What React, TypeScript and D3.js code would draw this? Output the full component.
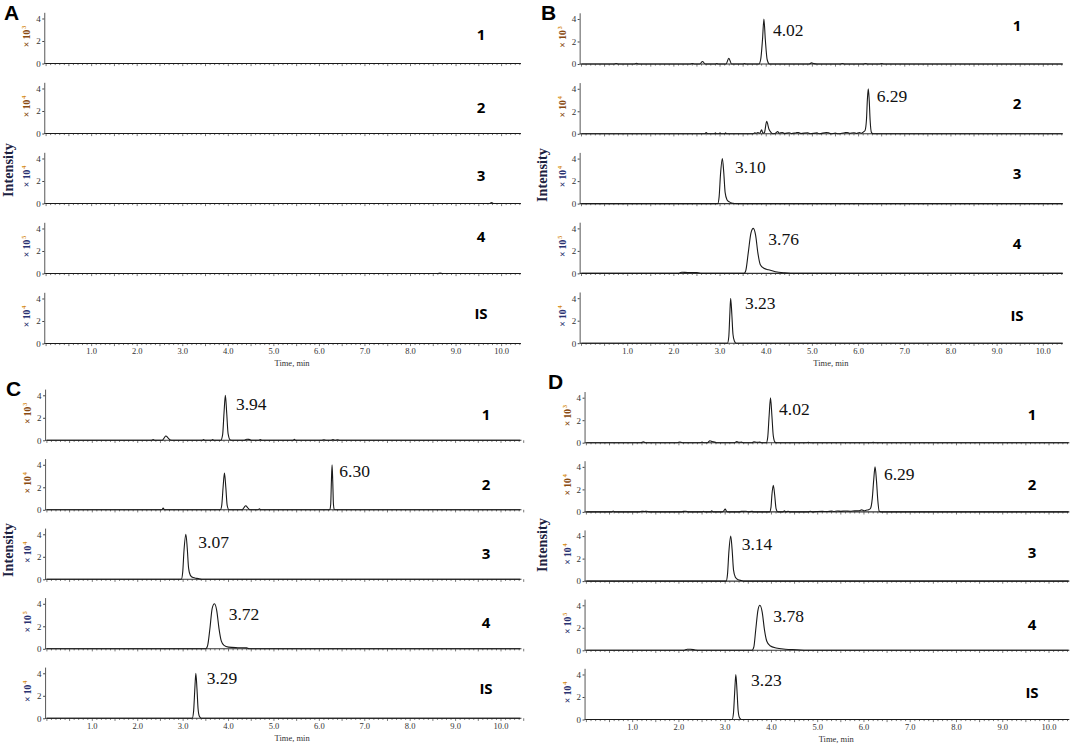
import { useEffect, useRef } from "react";
import * as d3 from "d3";

const width = 1072;
const height = 746;

type Pt = [number, number];

// row names, and the power of ten shown on each row's y axis
const rowLabels = ["1", "2", "3", "4", "IS"];
const exponents = ["3", "4", "4", "5", "4"];
const yTickValues = [0, 2, 4];
const xTickValues = [1, 2, 3, 4, 5, 6, 7, 8, 9, 10];

// ---- panel A: blank matrix ----
const traceA1: Pt[] = [[0, 0], [10.42, 0]];
const traceA2: Pt[] = [[0, 0], [10.42, 0]];
const traceA3: Pt[] = [[0, 0], [9.74, 0], [9.78, 0.08], [9.82, 0], [10.42, 0]];
const traceA4: Pt[] = [[0, 0], [8.6, 0], [8.65, 0.03], [8.7, 0], [10.42, 0]];
const traceA5: Pt[] = [[0, 0], [10.42, 0]];

// ---- panel B ----
const traceB1: Pt[] = [
  [0, 0], [0.7, 0], [0.75, 0.05], [0.8, 0], [1.14, 0], [1.19, 0.06], [1.24, 0],
  [2.35, 0], [2.4, 0.05], [2.45, 0], [2.56, 0], [2.62, 0.22], [2.68, 0], [2.9, 0],
  [2.93, 0.05], [2.96, 0], [3.13, 0], [3.19, 0.5], [3.25, 0], [3.5, 0], [3.53, 0.04],
  [3.56, 0], [3.84, 0], [3.88, 0.4], [3.92, 2.2], [3.95, 4.0], [3.98, 2.2], [4.02, 0.4],
  [4.07, 0], [4.93, 0], [4.98, 0.1], [5.03, 0.03], [5.1, 0], [5.6, 0], [5.65, 0.05],
  [5.7, 0], [6.1, 0], [6.15, 0.05], [6.2, 0], [6.45, 0], [6.5, 0.04], [6.55, 0], [10.42, 0],
];
const traceB2: Pt[] = [
  [0, 0], [2.67, 0], [2.7, 0.12], [2.73, 0], [2.88, 0], [2.9, 0.08], [2.92, 0], [2.98, 0],
  [3.0, 0.1], [3.02, 0], [3.1, 0], [3.12, 0.08], [3.14, 0], [3.72, 0], [3.75, 0.1],
  [3.78, 0.05], [3.82, 0.12], [3.86, 0.05], [3.9, 0.35], [3.93, 0.05], [3.96, 0.1],
  [4.01, 1.1], [4.06, 0.4], [4.1, 0.15], [4.14, 0], [4.2, 0.05], [4.25, 0.2], [4.28, 0.05],
  [4.35, 0.12], [4.4, 0.02], [4.5, 0.1], [4.55, 0.02], [4.65, 0.1], [4.7, 0.12], [4.75, 0.02],
  [4.9, 0.1], [4.95, 0], [5.1, 0.08], [5.15, 0], [5.3, 0.12], [5.35, 0.1], [5.4, 0],
  [5.5, 0.06], [5.55, 0], [5.7, 0.1], [5.75, 0.12], [5.8, 0.05], [5.9, 0.1], [5.95, 0.03],
  [6.02, 0.12], [6.06, 0.05], [6.1, 0.15], [6.14, 0.3], [6.17, 1.2], [6.19, 3.0], [6.21, 4.0],
  [6.23, 3.0], [6.25, 1.2], [6.28, 0.1], [6.32, 0], [10.42, 0],
];
const traceB3: Pt[] = [
  [0, 0], [2.95, 0], [2.98, 0.6], [3.01, 2.6], [3.05, 4.0], [3.08, 2.8], [3.11, 1.0],
  [3.15, 0.35], [3.2, 0.15], [3.28, 0.03], [3.35, 0], [10.42, 0],
];
const traceB4: Pt[] = [
  [0, 0], [2.1, 0], [2.17, 0.1], [2.3, 0.08], [2.5, 0.08], [2.6, 0], [3.52, 0], [3.56, 0.3],
  [3.61, 1.8], [3.67, 3.6], [3.72, 4.0], [3.77, 3.4], [3.82, 1.8], [3.87, 0.8], [3.95, 0.45],
  [4.05, 0.32], [4.2, 0.15], [4.4, 0.05], [4.65, 0], [10.42, 0],
];
const traceB5: Pt[] = [
  [0, 0], [3.16, 0], [3.19, 0.6], [3.21, 2.4], [3.23, 4.0], [3.255, 2.6], [3.28, 0.8],
  [3.31, 0.2], [3.35, 0], [10.42, 0],
];

// ---- panel C ----
const traceC1: Pt[] = [
  [0, 0], [2.3, 0], [2.34, 0.06], [2.38, 0], [2.54, 0], [2.58, 0.2], [2.62, 0.38], [2.67, 0.2],
  [2.72, 0.02], [2.78, 0], [3.42, 0], [3.45, 0.06], [3.48, 0], [3.62, 0], [3.65, 0.06],
  [3.68, 0], [3.83, 0], [3.87, 0.5], [3.9, 2.4], [3.93, 4.0], [3.96, 2.4], [3.99, 0.6],
  [4.04, 0.03], [4.1, 0], [4.35, 0], [4.4, 0.1], [4.45, 0.08], [4.5, 0], [4.66, 0], [4.7, 0.06],
  [4.74, 0], [5.42, 0], [5.45, 0.08], [5.48, 0], [6.05, 0], [6.1, 0.05], [6.15, 0], [6.25, 0],
  [6.3, 0.06], [6.35, 0], [6.4, 0.05], [6.45, 0], [10.42, 0],
];
const traceC2: Pt[] = [
  [0, 0], [2.53, 0], [2.56, 0.15], [2.59, 0], [3.82, 0], [3.85, 0.4], [3.88, 2.0], [3.91, 3.26],
  [3.94, 2.0], [3.97, 0.4], [4.01, 0], [4.3, 0], [4.34, 0.2], [4.38, 0.36], [4.42, 0.2],
  [4.47, 0], [4.65, 0], [4.68, 0.1], [4.71, 0], [6.23, 0], [6.25, 0.5], [6.265, 2.5],
  [6.28, 4.0], [6.295, 2.5], [6.31, 0.5], [6.33, 0], [10.42, 0],
];
const traceC3: Pt[] = [
  [0, 0], [2.96, 0], [2.99, 0.6], [3.02, 2.6], [3.06, 4.0], [3.09, 2.8], [3.12, 1.0],
  [3.16, 0.35], [3.22, 0.15], [3.3, 0.08], [3.37, 0.03], [3.42, 0], [10.42, 0],
];
const traceC4: Pt[] = [
  [0, 0], [3.5, 0], [3.54, 0.3], [3.59, 1.8], [3.64, 3.6], [3.69, 4.0], [3.74, 3.4],
  [3.79, 1.8], [3.84, 0.7], [3.9, 0.3], [4.0, 0.15], [4.2, 0.1], [4.4, 0.08], [4.45, 0],
  [10.42, 0],
];
const traceC5: Pt[] = [
  [0, 0], [3.2, 0], [3.23, 0.6], [3.255, 2.4], [3.28, 4.0], [3.305, 2.6], [3.33, 0.8],
  [3.36, 0.15], [3.4, 0], [10.42, 0],
];

// ---- panel D ----
const traceD1: Pt[] = [
  [0, 0], [1.18, 0], [1.23, 0.08], [1.28, 0], [1.97, 0], [2.02, 0.06], [2.07, 0], [2.45, 0],
  [2.5, 0.05], [2.55, 0], [2.62, 0], [2.67, 0.18], [2.72, 0.1], [2.78, 0.05], [2.82, 0],
  [3.2, 0], [3.25, 0.1], [3.3, 0.04], [3.35, 0.05], [3.4, 0], [3.58, 0], [3.62, 0.08],
  [3.68, 0.04], [3.75, 0.05], [3.8, 0], [3.89, 0], [3.92, 0.5], [3.95, 2.4], [3.98, 4.0],
  [4.01, 2.4], [4.04, 0.6], [4.08, 0.03], [4.12, 0], [4.76, 0], [4.8, 0.04], [4.84, 0],
  [6.16, 0], [6.2, 0.04], [6.24, 0], [10.42, 0],
];
const traceD2: Pt[] = [
  [0, 0], [0.55, 0], [0.58, 0.08], [0.61, 0], [1.15, 0], [1.2, 0.06], [1.25, 0.03], [1.3, 0.06],
  [1.35, 0], [2.05, 0], [2.1, 0.05], [2.15, 0.06], [2.2, 0], [2.5, 0], [2.53, 0.05], [2.56, 0],
  [2.68, 0], [2.71, 0.1], [2.74, 0], [2.93, 0], [2.97, 0.1], [3.0, 0.25], [3.03, 0.05],
  [3.06, 0], [3.3, 0], [3.35, 0.05], [3.45, 0.06], [3.5, 0], [3.58, 0.05], [3.62, 0],
  [3.96, 0], [3.99, 0.4], [4.01, 1.5], [4.04, 2.37], [4.07, 1.5], [4.1, 0.3], [4.14, 0],
  [4.25, 0], [4.28, 0.1], [4.31, 0], [4.36, 0.05], [4.4, 0], [4.8, 0], [4.84, 0.06], [4.88, 0],
  [5.0, 0.04], [5.1, 0.05], [5.2, 0.03], [5.3, 0.07], [5.35, 0.03], [5.42, 0.08], [5.5, 0.05],
  [5.6, 0.08], [5.7, 0.06], [5.8, 0.09], [5.9, 0.1], [5.95, 0.18], [6.0, 0.1], [6.05, 0.15],
  [6.1, 0.2], [6.14, 0.3], [6.18, 1.2], [6.21, 2.8], [6.24, 4.0], [6.27, 2.8], [6.3, 1.0],
  [6.33, 0.05], [6.37, 0], [10.42, 0],
];
const traceD3: Pt[] = [
  [0, 0], [3.02, 0], [3.05, 0.6], [3.08, 2.6], [3.12, 4.0], [3.15, 2.8], [3.18, 1.0],
  [3.22, 0.35], [3.28, 0.12], [3.35, 0.05], [3.4, 0], [10.42, 0],
];
const traceD4: Pt[] = [
  [0, 0], [2.1, 0], [2.18, 0.1], [2.25, 0.1], [2.35, 0.03], [2.45, 0], [3.58, 0], [3.62, 0.3],
  [3.66, 1.8], [3.71, 3.6], [3.75, 4.0], [3.8, 3.4], [3.85, 1.8], [3.9, 0.8], [3.97, 0.4],
  [4.1, 0.2], [4.3, 0.1], [4.55, 0.05], [4.76, 0], [10.42, 0],
];
const traceD5: Pt[] = [
  [0, 0], [3.15, 0], [3.18, 0.6], [3.205, 2.4], [3.23, 4.0], [3.255, 2.6], [3.28, 0.8],
  [3.31, 0.15], [3.35, 0], [10.42, 0],
];

// retention time labels: row, apex time, text
const peaksA: { row: number; at: number; text: string }[] = [];
const peaksB = [
  { row: 0, at: 3.95, text: "4.02" },
  { row: 1, at: 6.21, text: "6.29" },
  { row: 2, at: 3.05, text: "3.10" },
  { row: 3, at: 3.72, text: "3.76" },
  { row: 4, at: 3.23, text: "3.23" },
];
const peaksC = [
  { row: 0, at: 3.93, text: "3.94" },
  { row: 1, at: 6.28, text: "6.30" },
  { row: 2, at: 3.06, text: "3.07" },
  { row: 3, at: 3.69, text: "3.72" },
  { row: 4, at: 3.28, text: "3.29" },
];
const peaksD = [
  { row: 0, at: 3.98, text: "4.02" },
  { row: 1, at: 6.24, text: "6.29" },
  { row: 2, at: 3.12, text: "3.14" },
  { row: 3, at: 3.75, text: "3.78" },
  { row: 4, at: 3.23, text: "3.23" },
];

const panels = [
  {
    letter: "A", traces: [traceA1, traceA2, traceA3, traceA4, traceA5], peaks: peaksA,
    x0: 46.1, k: 45.55, tMax: 10.42, y0: 63.5, pitch: 70,
    letterX: 4, letterY: 20, intX: 13, intY: 170, labX: 481,
    labY: [34, 107, 175, 236, 313], peakDx: [], peakDy: [],
  },
  {
    letter: "B", traces: [traceB1, traceB2, traceB3, traceB4, traceB5], peaks: peaksB,
    x0: 581.5, k: 46.18, tMax: 10.42, y0: 64, pitch: 69.8,
    letterX: 541, letterY: 20, intX: 547, intY: 175, labX: 1017,
    labY: [25, 103, 173, 243, 315], peakDx: [9, 8.4, 12.7, 15, 14.3], peakDy: [-33.6, -38, -37, -34.7, -40],
  },
  {
    letter: "C", traces: [traceC1, traceC2, traceC3, traceC4, traceC5], peaks: peaksC,
    x0: 46.9, k: 45.41, tMax: 10.45, y0: 440.3, pitch: 69.5,
    letterX: 6, letterY: 396, intX: 13, intY: 550, labX: 486,
    labY: [414, 484.3, 552.7, 621.7, 688.3], peakDx: [10.6, 7.2, 12.5, 14.2, 10.9], peakDy: [-36, -39, -37, -35, -40],
  },
  {
    letter: "D", traces: [traceD1, traceD2, traceD3, traceD4, traceD5], peaks: peaksD,
    x0: 586.4, k: 46.26, tMax: 10.44, y0: 442.7, pitch: 69.2,
    letterX: 548, letterY: 389, intX: 547, intY: 545, labX: 1032,
    labY: [414.3, 484, 551.7, 624, 691.7], peakDx: [8.5, 8.9, 11, 13.4, 15.2], peakDy: [-33.7, -38.4, -37.4, -34.7, -39.7],
  },
];

const expColors = ["#8a4b12", "#8a4b12", "#2a3272", "#2a3272", "#2a3272"];
const serif = "'Liberation Serif', 'Times New Roman', 'DejaVu Serif', serif";
const sans = "'Open Sans', 'Liberation Sans', sans-serif";

function App() {
  const ref = useRef<SVGSVGElement>(null);

  useEffect(() => {
    const svg = d3.select(ref.current);
    svg.selectAll("*").remove();
    svg.append("rect").attr("width", width).attr("height", height).attr("fill", "#fff");

    panels.forEach((p) => {
      const x = d3.scaleLinear().domain([0, 10]).range([p.x0, p.x0 + 10 * p.k]);
      const xStart = x(-0.04);
      const xEnd = x(p.tMax);
      const g = svg.append("g");

      // panel letter
      g.append("text")
        .attr("x", p.letterX)
        .attr("y", p.letterY)
        .attr("font-family", "'Liberation Sans', Arial, sans-serif")
        .attr("font-weight", "bold")
        .attr("font-size", 21)
        .attr("fill", "#000")
        .text(p.letter);

      // Intensity
      g.append("text")
        .attr("transform", `translate(${p.intX},${p.intY}) rotate(-90)`)
        .attr("text-anchor", "middle")
        .attr("font-family", serif)
        .attr("font-weight", "bold")
        .attr("font-size", 14.3)
        .attr("fill", "#1b2140")
        .text("Intensity");

      p.traces.forEach((trace, r) => {
        const base = p.y0 + r * p.pitch;
        const y = d3.scaleLinear().domain([0, 4.55]).range([base, base - 51.2]);

        // minor ticks along the baseline
        const minor = d3.range(0, Math.round(p.tMax * 10) + 1).map((i) => i / 10);
        g.append("g")
          .selectAll("line")
          .data(minor)
          .enter()
          .append("line")
          .attr("x1", (d) => x(d))
          .attr("x2", (d) => x(d))
          .attr("y1", base)
          .attr("y2", (d) => base + (Math.abs(d * 2 - Math.round(d * 2)) < 1e-6 ? 2.6 : 1.6))
          .attr("stroke", "#555")
          .attr("stroke-width", 0.8);

        // baseline
        g.append("line")
          .attr("x1", xStart)
          .attr("x2", xEnd)
          .attr("y1", base)
          .attr("y2", base)
          .attr("stroke", "#333")
          .attr("stroke-width", 1.1);

        // y axis
        const ya = g.append("g")
          .attr("transform", `translate(${xStart},0)`)
          .call(d3.axisLeft(y).tickValues(yTickValues).tickSize(2).tickSizeOuter(0).tickFormat(d3.format("d")));
        ya.select(".domain").attr("stroke", "#444").attr("stroke-width", 0.9);
        ya.selectAll(".tick line").attr("stroke", "#444");
        ya.selectAll(".tick text")
          .attr("font-family", serif)
          .attr("font-size", 9)
          .attr("fill", "#333")
          .attr("x", -3.5);

        // exponent label
        const ex = g.append("text")
          .attr("transform", `translate(${xStart - 14},${base - 27}) rotate(-90)`)
          .attr("text-anchor", "middle")
          .attr("font-family", serif)
          .attr("font-weight", "bold")
          .attr("font-size", 9.5)
          .attr("fill", expColors[r]);
        ex.append("tspan").text("× 10");
        ex.append("tspan")
          .attr("dy", -4)
          .attr("dx", 1)
          .attr("font-size", 6)
          .attr("fill", "#d4880f")
          .text(exponents[r]);

        // trace
        const line = d3
          .line<Pt>()
          .x((d) => x(d[0]))
          .y((d) => y(d[1]))
          .curve(d3.curveMonotoneX);
        g.append("path")
          .datum(trace)
          .attr("fill", "none")
          .attr("stroke", "#1a1a1a")
          .attr("stroke-width", 1.1)
          .attr("d", line);

        // row label
        g.append("text")
          .attr("x", p.labX)
          .attr("y", p.labY[r])
          .attr("text-anchor", "middle")
          .attr("dominant-baseline", "central")
          .attr("font-family", sans)
          .attr("font-weight", "bold")
          .attr("font-size", 15)
          .attr("fill", "#000")
          .text(rowLabels[r]);

        // x tick labels under the last row
        if (r === p.traces.length - 1) {
          g.append("g")
            .selectAll("text")
            .data(xTickValues)
            .enter()
            .append("text")
            .attr("x", (d) => x(d))
            .attr("y", base + 10.5)
            .attr("text-anchor", "middle")
            .attr("font-family", serif)
            .attr("font-size", 8.5)
            .attr("fill", "#333")
            .text((d) => d3.format(".1f")(d));
          g.append("text")
            .attr("x", x(5.4))
            .attr("y", base + 22.5)
            .attr("text-anchor", "middle")
            .attr("font-family", serif)
            .attr("font-size", 8.5)
            .attr("fill", "#333")
            .text("Time, min");
        }
      });

      // retention time labels
      p.peaks.forEach((pk, i) => {
        const base = p.y0 + pk.row * p.pitch;
        g.append("text")
          .attr("x", x(pk.at) + p.peakDx[i])
          .attr("y", base + p.peakDy[i])
          .attr("dominant-baseline", "central")
          .attr("font-family", serif)
          .attr("font-size", 17.5)
          .attr("fill", "#111")
          .text(pk.text);
      });
    });
  }, []);

  return (
    <svg
      ref={ref}
      width={width}
      height={height}
      style={{ position: "absolute", left: 0, top: 0, display: "block" }}
    />
  );
}

export default App;
